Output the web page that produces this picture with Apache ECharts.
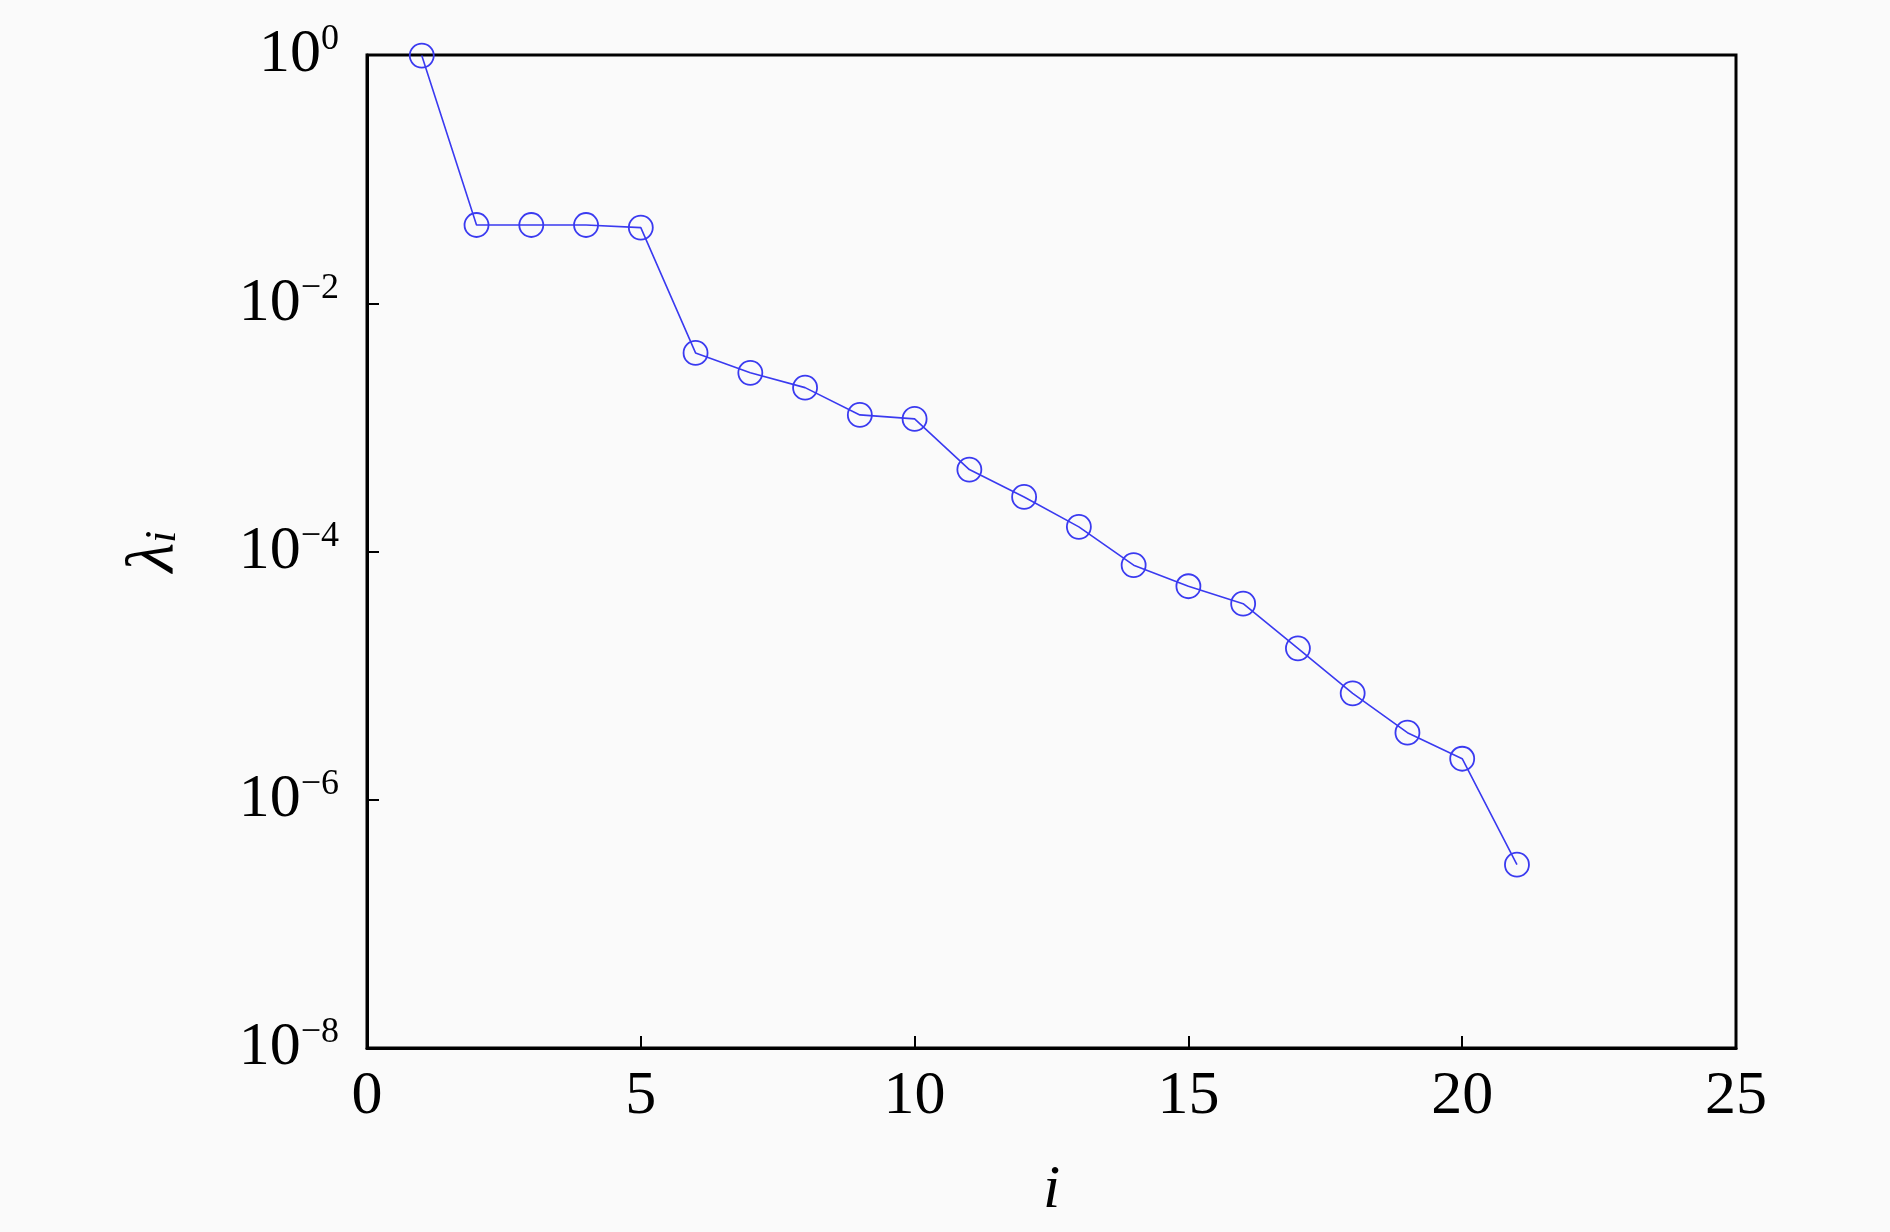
<!DOCTYPE html>
<html>
<head>
<meta charset="utf-8">
<style>
  html, body { margin: 0; padding: 0; background: #fafafa; overflow: hidden; }
  #chart { width: 1890px; height: 1232px; }
</style>
<script src="https://cdn.jsdelivr.net/npm/echarts@6/dist/echarts.min.js"></script>
</head>
<body>
<div id="chart"></div>
<script>
const indices = [1,2,3,4,5,6,7,8,9,10,11,12,13,14,15,16,17,18,19,20,21];
const lambdas = [0.99, 0.0427, 0.0427, 0.0427, 0.0407, 0.00398, 0.00275, 0.00209, 0.00126, 0.00117,
  0.000457, 0.000275, 0.000158, 7.76e-5, 5.25e-5, 3.80e-5, 1.66e-5, 7.2e-6, 3.47e-6, 2.14e-6, 3.0e-7];
const xTicks = [0, 5, 10, 15, 20, 25];
const yExponents = [0, -2, -4, -6, -8];

const FONT = 'Liberation Serif, serif';
const chart = echarts.init(document.getElementById('chart'));
chart.setOption({
  backgroundColor: '#fafafa',
  animation: false,
  grid: { left: 367, right: 154, top: 55, bottom: 184, containLabel: false, outerBoundsMode: 'none',
    show: true, borderColor: '#000', borderWidth: 3, backgroundColor: 'transparent' },
  xAxis: {
    type: 'value', min: xTicks[0], max: xTicks[xTicks.length - 1], interval: 5,
    name: 'i', nameLocation: 'middle', nameGap: 112,
    nameTextStyle: { fontFamily: FONT, fontStyle: 'italic', fontSize: 62, color: '#000' },
    axisLine: { show: true, lineStyle: { color: '#000', width: 3 } },
    axisTick: { show: true, inside: true, length: 12, lineStyle: { color: '#000', width: 2 } },
    axisLabel: { fontFamily: FONT, fontSize: 62, color: '#000', margin: 18,
      formatter: v => xTicks.includes(v) ? String(v) : '' },
    splitLine: { show: false }
  },
  yAxis: {
    type: 'log', logBase: 10, min: 1e-8, max: 1, interval: 2,
    name: '{l|λ}{s|i}', nameLocation: 'middle', nameGap: 178, nameRotate: 90,
    nameTextStyle: { rich: {
      l: { fontFamily: FONT, fontStyle: 'italic', fontSize: 68, color: '#000' },
      s: { fontFamily: FONT, fontStyle: 'italic', fontSize: 44, color: '#000', padding: [0, 0, -16, 0] }
    } },
    axisLine: { show: true, lineStyle: { color: '#000', width: 3 } },
    axisTick: { show: true, inside: true, length: 12, lineStyle: { color: '#000', width: 2 } },
    minorTick: { show: false },
    axisLabel: {
      margin: 28,
      formatter: function (v) {
        const e = Math.round(Math.log10(v));
        if (!yExponents.includes(e)) return '';
        return '{b|10}{e|' + (e === 0 ? '0' : '\u2212' + (-e)) + '}';
      },
      rich: {
        b: { fontFamily: FONT, fontSize: 62, color: '#000' },
        e: { fontFamily: FONT, fontSize: 36, color: '#000', padding: [0, 0, 30, 0] }
      }
    },
    splitLine: { show: false }
  },
  series: [{
    type: 'line',
    data: indices.map((x, k) => [x, lambdas[k]]),
    symbol: 'circle', symbolSize: 24,
    itemStyle: { color: 'rgba(0,0,0,0)', borderColor: '#3a3af0', borderWidth: 1.8 },
    lineStyle: { color: '#3a3af0', width: 1.6 },
    emphasis: { disabled: true }
  }]
});
</script>
</body>
</html>
